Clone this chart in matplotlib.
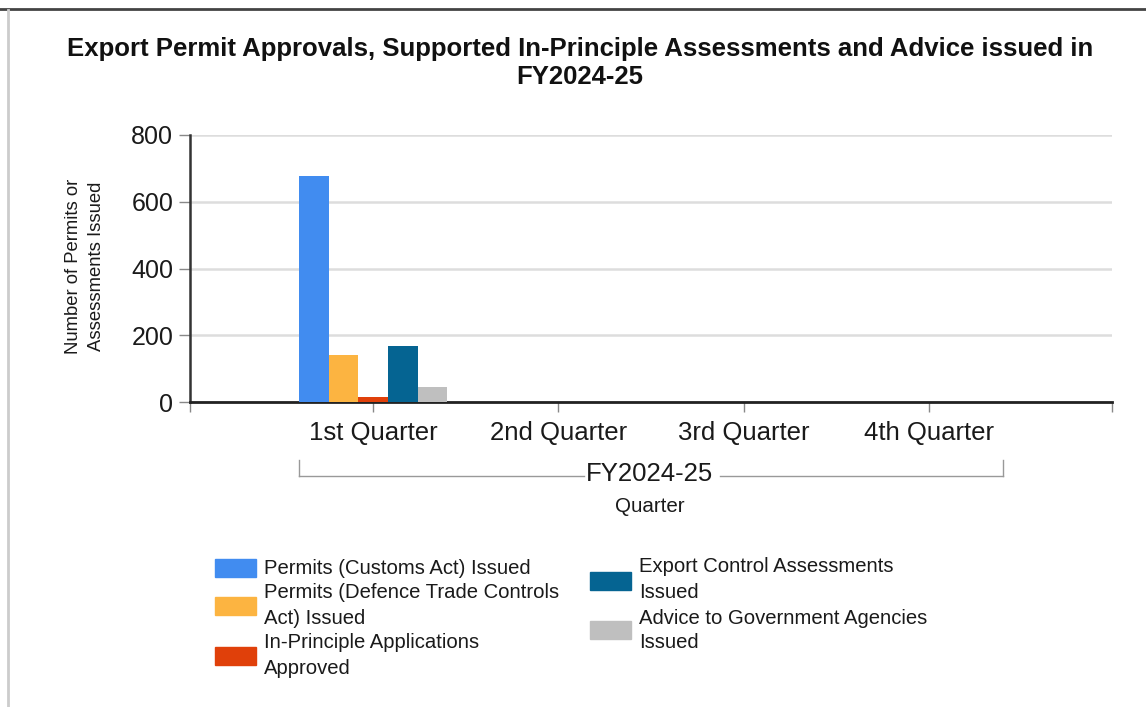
import matplotlib
matplotlib.use("Agg")
import matplotlib.pyplot as plt
from matplotlib.patches import Rectangle
from matplotlib.lines import Line2D
import numpy as np

plt.rcParams['font.family'] = ['Liberation Sans', 'DejaVu Sans']

title = "Export Permit Approvals, Supported In-Principle Assessments and Advice issued in\nFY2024-25"
quarters = ["1st Quarter", "2nd Quarter", "3rd Quarter", "4th Quarter"]
fiscal_year = "FY2024-25"
series_names = [
    "Permits (Customs Act) Issued",
    "Permits (Defence Trade Controls\nAct) Issued",
    "In-Principle Applications\nApproved",
    "Export Control Assessments\nIssued",
    "Advice to Government Agencies\nIssued",
]
customs_permits = [678, 0, 0, 0]
dtc_permits = [141, 0, 0, 0]
in_principle = [15, 0, 0, 0]
export_control = [169, 0, 0, 0]
advice = [44, 0, 0, 0]
series_values = [customs_permits, dtc_permits, in_principle, export_control, advice]
colors = ["#418CF0", "#FCB441", "#E0400A", "#056492", "#BFBFBF"]
yticks = [0, 200, 400, 600, 800]

W, H = 1146, 707
fig = plt.figure(figsize=(W / 100, H / 100), dpi=100)
fig.patch.set_facecolor("white")

def fx(px):
    return px / W

def fy(py):
    return 1 - py / H

ax = fig.add_axes([fx(190), fy(402), fx(1112) - fx(190), fy(135) - fy(402)])
x = np.arange(len(quarters))
bw = 0.16
for i, (vals, c) in enumerate(zip(series_values, colors)):
    ax.bar(x + (i - 2) * bw, vals, width=bw, color=c, zorder=3)

ax.set_xlim(-0.99, 3.99)
ax.set_ylim(0, 800)
ax.set_yticks(yticks)
ax.set_yticklabels([str(v) for v in yticks], fontsize=18, color="#1a1a1a")
ax.set_xticks(x)
ax.set_xticklabels(quarters, fontsize=18.5, color="#1a1a1a")
ax.set_xticks([-0.99, 3.99], minor=True)
ax.tick_params(axis="x", which="both", length=7, width=1, color="#888888", pad=7)
ax.tick_params(axis="y", length=8, width=1, color="#888888", pad=4)
ax.yaxis.grid(True, color="#dddddd", linewidth=1.8, zorder=0)
ax.set_axisbelow(True)
for s in ["top", "right"]:
    ax.spines[s].set_visible(False)
ax.spines["left"].set_linewidth(1.8)
ax.spines["left"].set_color("#333333")
ax.spines["bottom"].set_linewidth(2)
ax.spines["bottom"].set_color("#222222")

# y label
fig.text(fx(85), fy(266), "Number of Permits or\nAssessments Issued", rotation=90,
         ha="center", va="center", fontsize=13.3, color="#1a1a1a", linespacing=1.4)

# title
fig.text(fx(580), fy(63), title, ha="center", va="center", fontsize=18.5,
         fontweight="bold", color="#111111", linespacing=1.26)

# fiscal year bracket (x in data coords)
trans = matplotlib.transforms.blended_transform_factory(ax.transData, fig.transFigure)
x0, x1 = -0.4, 3.4
yb_top, yb = fy(460), fy(476)
bc = "#999999"
fig.add_artist(Line2D([x0, x0], [yb_top, yb], transform=trans, color=bc, lw=1))
fig.add_artist(Line2D([x1, x1], [yb_top, yb], transform=trans, color=bc, lw=1))
fig.add_artist(Line2D([x0, 1.14], [yb, yb], transform=trans, color=bc, lw=1))
fig.add_artist(Line2D([1.87, x1], [yb, yb], transform=trans, color=bc, lw=1))
fig.text(fx(650), fy(474), fiscal_year, ha="center", va="center", fontsize=18.5, color="#1a1a1a")
fig.text(fx(650), fy(507), "Quarter", ha="center", va="center", fontsize=14.8, color="#1a1a1a")

# legend: (patch x, text x, patch center y, text center y)
leg_items = [
    (215, 264, 568, 569),
    (215, 264, 606, 605.5),
    (215, 264, 656, 655.5),
    (590, 639, 581, 579.5),
    (590, 639, 630, 630.5),
]
for (px, tx, py, ty), name, c in zip(leg_items, series_names, colors):
    fig.add_artist(Rectangle((fx(px), fy(py + 9)), fx(41), 18 / H, color=c,
                             transform=fig.transFigure))
    fig.text(fx(tx), fy(ty), name, ha="left", va="center", fontsize=14.6,
             color="#1a1a1a", linespacing=1.4)

# page frame lines
fig.add_artist(Line2D([0, 1], [fy(9), fy(9)], transform=fig.transFigure, color="#444444", lw=2))
fig.add_artist(Line2D([fx(8), fx(8)], [0, fy(10)], transform=fig.transFigure, color="#cccccc", lw=2))

fig.savefig("out.png", dpi=100)
